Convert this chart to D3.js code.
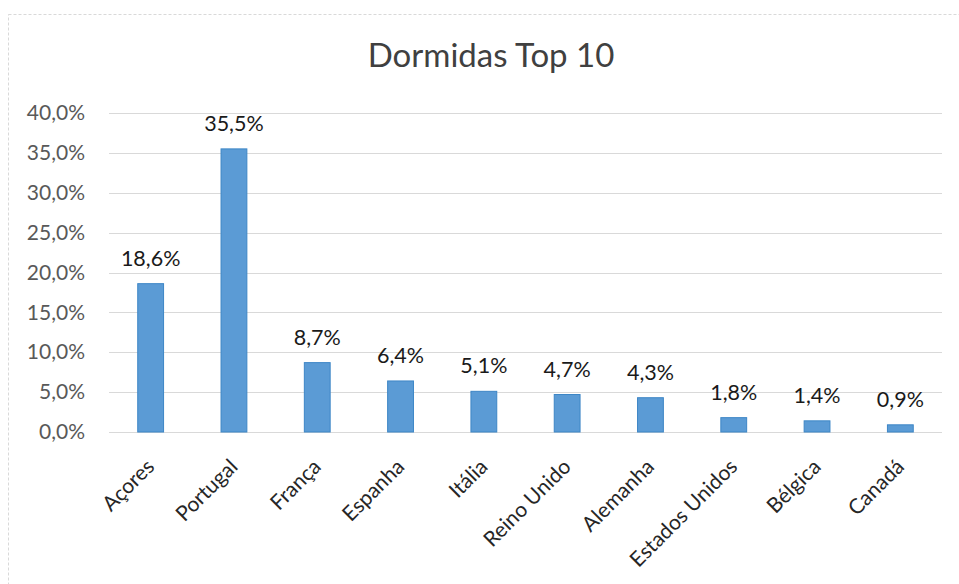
<!DOCTYPE html>
<html>
<head>
<meta charset="utf-8">
<script src="https://cdn.jsdelivr.net/npm/d3@7"></script>
<style>
  html, body { margin: 0; padding: 0; background: #fff; }
  svg { display: block; }
  text { font-family: Lato, "Open Sans", sans-serif; }
</style>
</head>
<body>
<svg id="chart" width="959" height="584"></svg>
<script>
// Overnight stays share by origin (top 10)
const categories = ["Açores", "Portugal", "França", "Espanha", "Itália",
  "Reino Unido", "Alemanha", "Estados Unidos", "Bélgica", "Canadá"];
const values = [18.6, 35.5, 8.7, 6.4, 5.1, 4.7, 4.3, 1.8, 1.4, 0.9];
const yTicks = [0, 5, 10, 15, 20, 25, 30, 35, 40];
const title = "Dormidas Top 10";

const fmt = v => d3.format(".1f")(v).replace(".", ",") + "%";

const svg = d3.select("#chart");
const W = 959, H = 584;
const margin = { left: 109, right: 17, top: 113, bottom: 152 };

// outer chart border
svg.append("rect")
  .attr("x", 8.5).attr("y", 14.5)
  .attr("width", W + 10).attr("height", H + 10)
  .attr("fill", "none")
  .attr("stroke", "#d9d9d9")
  .attr("stroke-width", 1)
  .attr("stroke-dasharray", "3,2");

const x = d3.scaleBand()
  .domain(categories)
  .range([margin.left, W - margin.right])
  .paddingInner(0.69)
  .paddingOuter(0.345);

const y = d3.scaleLinear()
  .domain([0, 40])
  .range([H - margin.bottom, margin.top]);

// horizontal gridlines
svg.append("g")
  .selectAll("line")
  .data(yTicks)
  .join("line")
  .attr("x1", margin.left).attr("x2", W - margin.right)
  .attr("y1", d => Math.round(y(d)) + 0.5)
  .attr("y2", d => Math.round(y(d)) + 0.5)
  .attr("stroke", "#d9d9d9")
  .attr("stroke-width", 1);

// y axis labels
const yAxis = d3.axisLeft(y)
  .tickValues(yTicks)
  .tickSize(0)
  .tickPadding(24)
  .tickFormat(fmt);
const gy = svg.append("g")
  .attr("transform", `translate(${margin.left},0)`)
  .call(yAxis);
gy.select(".domain").remove();
gy.selectAll("text")
  .attr("fill", "#595959")
  .style("font-size", "21px");

// bars
svg.append("g")
  .selectAll("rect")
  .data(values)
  .join("rect")
  .attr("x", (d, i) => x(categories[i]))
  .attr("y", d => y(d))
  .attr("width", x.bandwidth())
  .attr("height", d => y(0) - y(d))
  .attr("fill", "#5b9bd5")
  .attr("stroke", "#3d86c6")
  .attr("stroke-width", 1);

// value labels
svg.append("g")
  .selectAll("text")
  .data(values)
  .join("text")
  .attr("x", (d, i) => x(categories[i]) + x.bandwidth() / 2)
  .attr("y", d => y(d) - 18)
  .attr("text-anchor", "middle")
  .attr("fill", "#1a1a1a")
  .style("font-size", "21.5px")
  .text(fmt);

// x axis category labels
const xAxis = d3.axisBottom(x).tickSize(0).tickPadding(0);
const gx = svg.append("g")
  .attr("transform", `translate(0,${H - margin.bottom})`)
  .call(xAxis);
gx.select(".domain").remove();
gx.selectAll("text")
  .attr("fill", "#262626")
  .style("font-size", "21px")
  .attr("text-anchor", "end")
  .attr("dy", 0)
  .attr("transform", "translate(5,36) rotate(-45)");

// title
svg.append("text")
  .attr("x", 491).attr("y", 67)
  .attr("text-anchor", "middle")
  .attr("fill", "#404040")
  .style("font-size", "33px")
  .text(title);
</script>
</body>
</html>
